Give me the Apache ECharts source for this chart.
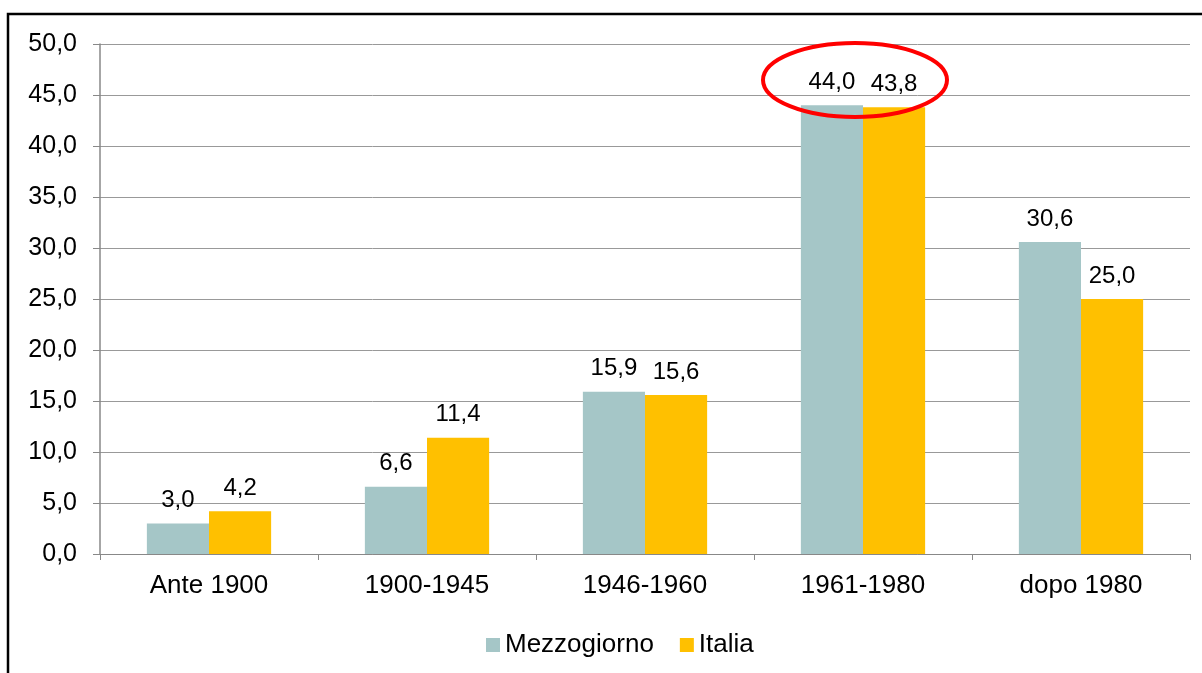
<!DOCTYPE html>
<html>
<head>
<meta charset="utf-8">
<script src="https://cdn.jsdelivr.net/npm/echarts@6/dist/echarts.min.js"></script>
<style>
	html, body { margin: 0; padding: 0; background: #fff; }
	#chart { width: 1202px; height: 673px; }
</style>
</head>
<body>
<div id="chart"></div>
<script>
var categories = ['Ante 1900', '1900-1945', '1946-1960', '1961-1980', 'dopo 1980'];
var mezzogiorno = [3.0, 6.6, 15.9, 44.0, 30.6];
var italia = [4.2, 11.4, 15.6, 43.8, 25.0];
var seriesNames = ['Mezzogiorno', 'Italia'];

var fmt = function(v) {
	return Number(v).toFixed(1).replace('.', ',');
};

var chart = echarts.init(document.getElementById('chart'));

var barLabel = {
	show: true,
	position: 'top',
	distance: 11,
	fontSize: 24,
	color: '#000',
	formatter: function(p) { return fmt(p.value); }
};

var option = {
	backgroundColor: '#fff',
	animation: false,
	textStyle: { fontFamily: 'Liberation Sans, Arial, sans-serif' },
	color: ['#a5c6c7', '#ffc000'],
	grid: {
		left: 100,
		right: 12,
		top: 44,
		bottom: 119,
		containLabel: false
	},
	legend: {
		top: 627,
		left: 481,
		itemWidth: 14,
		itemHeight: 14,
		itemGap: 26,
		icon: 'rect',
		textStyle: { fontSize: 26, color: '#000' },
		data: seriesNames
	},
	xAxis: {
		type: 'category',
		data: categories,
		axisLine: { lineStyle: { color: '#888', width: 1 } },
		axisTick: { show: true, length: 6, lineStyle: { color: '#888' } },
		axisLabel: { fontSize: 26, color: '#000', margin: 19 }
	},
	yAxis: {
		type: 'value',
		min: 0,
		max: 50,
		interval: 5,
		axisLine: { show: true, lineStyle: { color: '#888', width: 1.5 } },
		axisTick: { show: true, length: 7, lineStyle: { color: '#888' } },
		axisLabel: { fontSize: 25, color: '#000', margin: 23, formatter: fmt },
		splitLine: { lineStyle: { color: '#999', width: 1 } }
	},
	series: [
		{
			name: seriesNames[0],
			type: 'bar',
			data: mezzogiorno,
			barGap: '0%',
			barCategoryGap: '43%',
			label: barLabel
		},
		{
			name: seriesNames[1],
			type: 'bar',
			data: italia,
			barGap: '0%',
			barCategoryGap: '43%',
			label: barLabel
		}
	],
	graphic: [
		{
			type: 'rect',
			shape: { x: 8, y: 14, width: 1400, height: 900 },
			style: { fill: 'none', stroke: '#000', lineWidth: 2.5 },
			silent: true
		},
		{
			type: 'ellipse',
			shape: { cx: 855, cy: 80, rx: 92, ry: 37 },
			style: { fill: 'none', stroke: '#ff0000', lineWidth: 4 },
			z: 100,
			silent: true
		}
	]
};

chart.setOption(option);
</script>
</body>
</html>
